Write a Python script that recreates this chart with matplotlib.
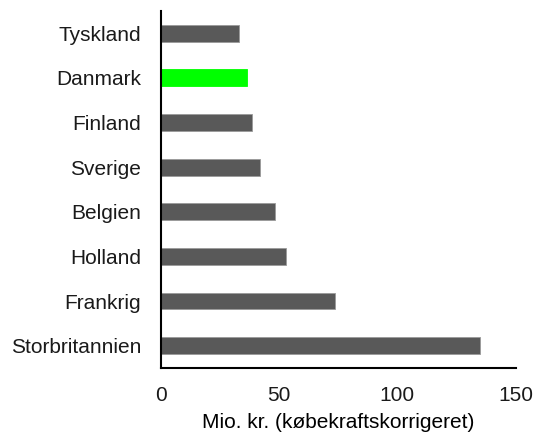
import matplotlib
matplotlib.use("Agg")
import matplotlib.pyplot as plt

# Country values, top to bottom as drawn
countries = ["Tyskland", "Danmark", "Finland", "Sverige",
             "Belgien", "Holland", "Frankrig", "Storbritannien"]
values = [33.1, 36.5, 38.4, 41.8, 48.2, 53.1, 73.8, 135.0]
highlight = "Danmark"
xticks = [0, 50, 100, 150]

plt.rcParams["font.family"] = ["Liberation Sans", "DejaVu Sans"]
plt.rcParams["font.size"] = 15
plt.rcParams["text.color"] = "#1a1a1a"

fig = plt.figure(figsize=(5.34, 4.36), dpi=100)
ax = fig.add_axes([0.301, 0.156, 0.6647, 0.8192])

colors = ["#00ff00" if c == highlight else "#595959" for c in countries]
edges = ["#00ff00" if c == highlight else "#9a9a9a" for c in countries]
ypos = list(range(len(countries)))
ax.barh(ypos, values, height=0.38, color=colors, edgecolor=edges, linewidth=0.6)

ax.set_yticks(ypos)
ax.set_yticklabels(countries)
ax.set_ylim(len(countries) - 0.5, -0.5)
ax.set_xlim(0, 150)
ax.set_xticks(xticks)
ax.tick_params(axis="both", length=0, labelcolor="#1a1a1a")
ax.tick_params(axis="y", pad=14)
ax.tick_params(axis="x", pad=13)
ax.set_xlabel("Mio. kr. (købekraftskorrigeret)", labelpad=6)

for side in ("top", "right"):
    ax.spines[side].set_visible(False)
for side in ("left", "bottom"):
    ax.spines[side].set_linewidth(1.5)
    ax.spines[side].set_color("black")

fig.savefig("out.png", dpi=100)
